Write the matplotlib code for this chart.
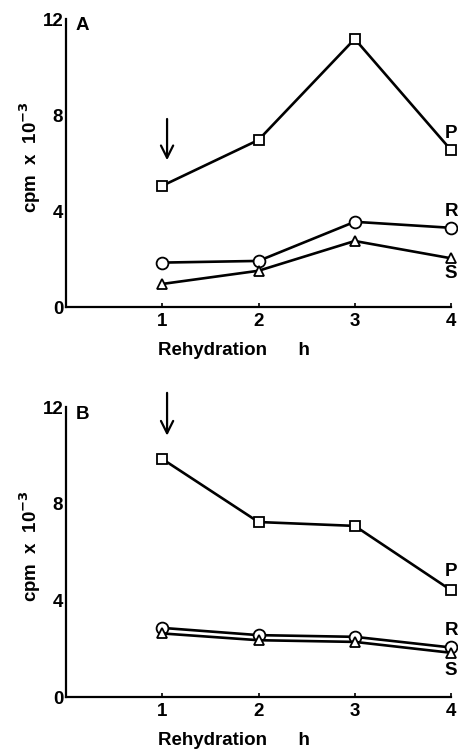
import matplotlib
matplotlib.use("Agg")
import matplotlib.pyplot as plt

hours = [1, 2, 3, 4]
x_ticks = [1, 2, 3, 4]
y_ticks = [0, 4, 8, 12]

a_P = [5.05, 6.96, 11.17, 6.54]
a_R = [1.85, 1.92, 3.55, 3.30]
a_S = [0.96, 1.51, 2.75, 2.03]

b_P = [9.85, 7.24, 7.08, 4.42]
b_R = [2.86, 2.56, 2.49, 2.05]
b_S = [2.63, 2.35, 2.28, 1.83]

plt.rcParams['font.family'] = ['Liberation Sans', 'DejaVu Sans']
plt.rcParams['font.weight'] = 'bold'
plt.rcParams['mathtext.default'] = 'bf'

fig = plt.figure(figsize=(4.58, 7.5), dpi=100)
axA = fig.add_axes([66/458, (750-307)/750, 385/458, 288/750])
axB = fig.add_axes([66/458, (750-697)/750, 385/458, 290/750])

FS = 13.5

def style(ax, letter, letter_y):
    ax.set_xlim(0, 4)
    ax.set_ylim(0, 12)
    for s in ['top', 'right']:
        ax.spines[s].set_visible(False)
    for s in ['left', 'bottom']:
        ax.spines[s].set_linewidth(1.6)
        ax.spines[s].set_clip_on(False)
    ax.set_xticks(x_ticks)
    ax.set_xticklabels([str(v) for v in x_ticks], fontsize=FS, fontweight='bold')
    ax.set_yticks(y_ticks)
    ax.set_yticklabels([str(v) for v in y_ticks], fontsize=FS, fontweight='bold')
    ax.tick_params(axis='x', direction='in', length=3, width=1.2, pad=4)
    ax.tick_params(axis='y', direction='in', length=0, pad=2)
    ax.set_xlabel('Rehydration      h', fontsize=FS, fontweight='bold')
    ax.xaxis.set_label_coords(0.435, -0.12)
    ax.set_ylabel('cpm  x  10$^{-3}$', fontsize=FS, fontweight='bold')
    ax.yaxis.set_label_coords(-0.06, 0.52)
    ax.text(0.1, letter_y, letter, fontsize=FS, fontweight='bold', ha='left', va='center')

def series(ax, P, R, S):
    kw = dict(color='black', lw=1.9, markerfacecolor='white', markeredgecolor='black',
              markeredgewidth=1.3, clip_on=False, zorder=3)
    ax.plot(hours, P, marker='s', markersize=7, **kw)
    ax.plot(hours, R, marker='o', markersize=8.5, **kw)
    ax.plot(hours, S, marker='^', markersize=7, **kw)

series(axA, a_P, a_R, a_S)
style(axA, 'A', 11.75)
axA.annotate('', xy=(1.05, 6.0), xytext=(1.05, 7.95),
             arrowprops=dict(arrowstyle='->', lw=1.6, color='black', mutation_scale=22))
axA.text(4.0, 7.25, 'P', fontsize=FS, fontweight='bold', ha='center', va='center')
axA.text(4.0, 3.96, 'R', fontsize=FS, fontweight='bold', ha='center', va='center')
axA.text(4.0, 1.4, 'S', fontsize=FS, fontweight='bold', ha='center', va='center')

series(axB, b_P, b_R, b_S)
style(axB, 'B', 11.7)
axB.annotate('', xy=(1.05, 10.7), xytext=(1.05, 12.7),
             arrowprops=dict(arrowstyle='->', lw=1.6, color='black', mutation_scale=22),
             annotation_clip=False)
axB.text(4.0, 5.2, 'P', fontsize=FS, fontweight='bold', ha='center', va='center')
axB.text(4.0, 2.77, 'R', fontsize=FS, fontweight='bold', ha='center', va='center')
axB.text(4.0, 1.1, 'S', fontsize=FS, fontweight='bold', ha='center', va='center')

fig.savefig('out.png', dpi=100, facecolor='white')
